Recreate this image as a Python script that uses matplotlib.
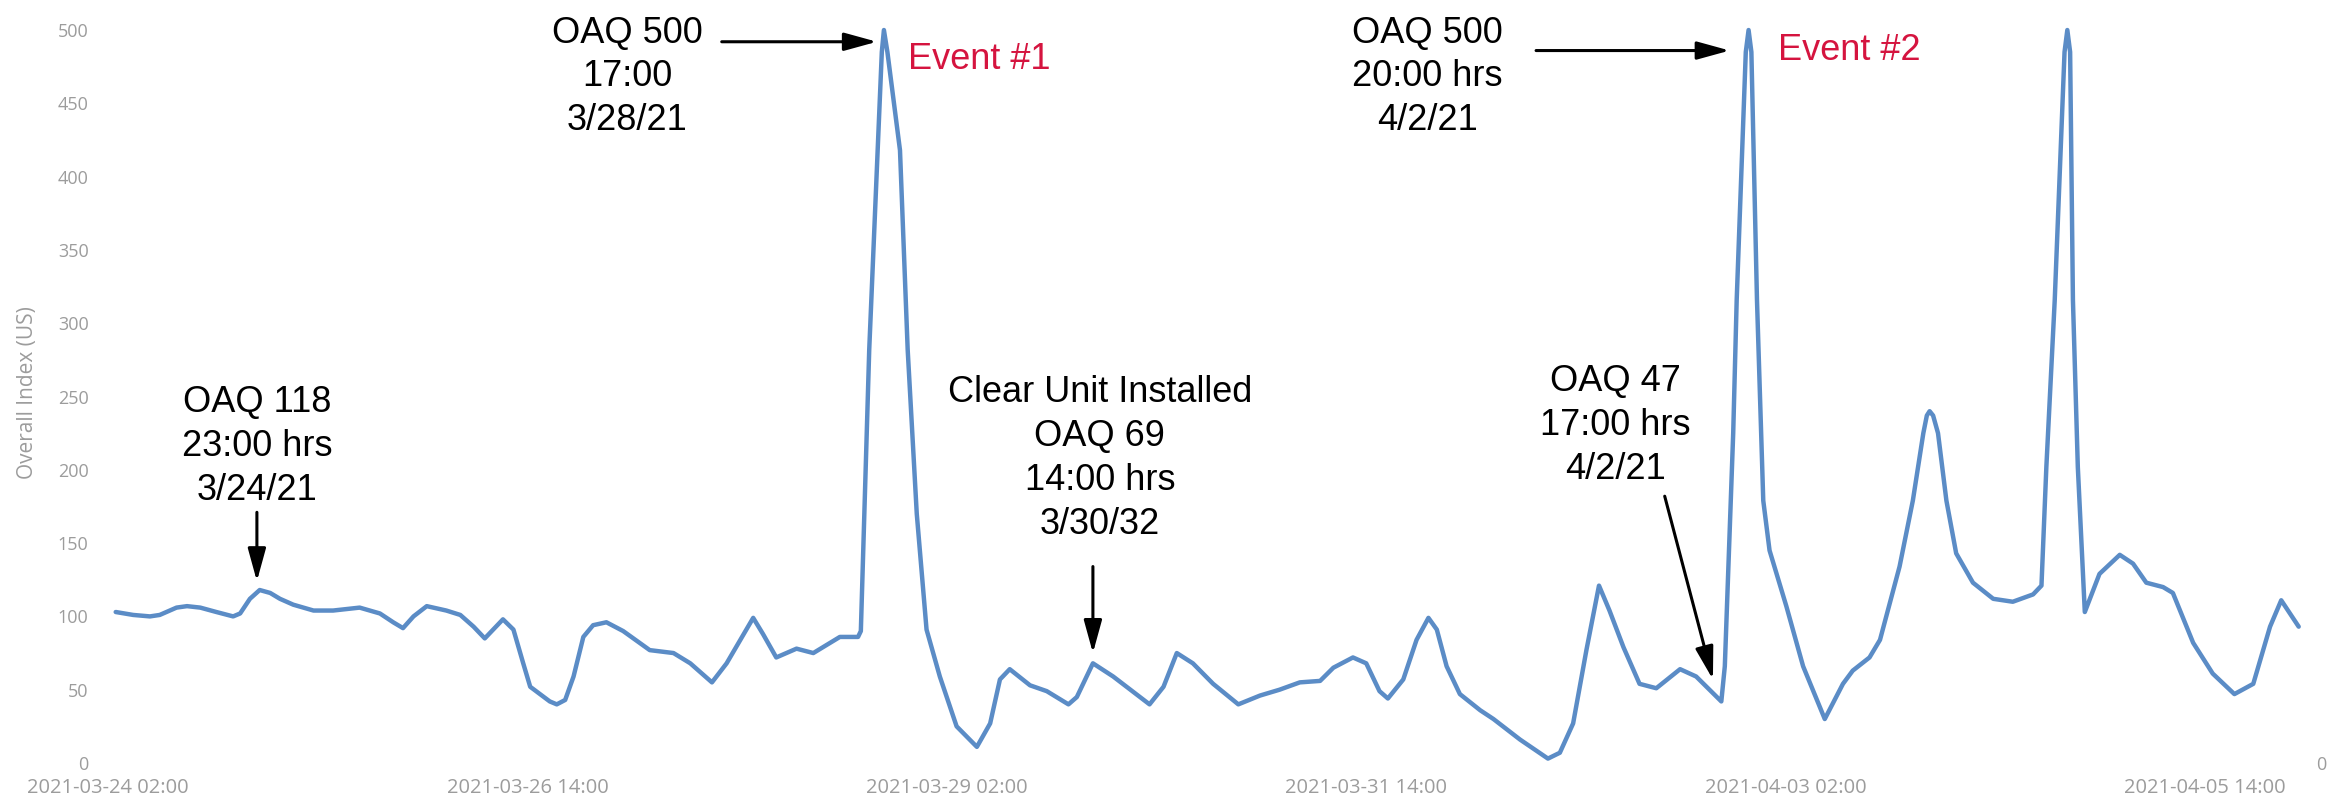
import matplotlib
matplotlib.use('Agg')
import matplotlib.pyplot as plt
import matplotlib.dates as mdates
import pandas as pd

# ---------------- data ----------------
start = pd.Timestamp('2021-03-24 02:00')

# hours after 2021-03-24 02:00
hours = [1.1, 3.6, 6.0, 7.4, 9.8, 11.3, 13.2, 15.5, 17.9, 18.9, 20.3, 21.7, 23.2, 24.6,
         26.5, 29.4, 32.2, 36.0, 38.9, 40.8, 42.2, 43.7, 45.6, 48.4, 50.4, 52.3, 53.9,
         56.5, 58.0, 59.4, 60.4, 63.2, 64.2, 65.4, 66.6, 68.0, 69.4, 71.3, 73.7, 77.5,
         80.9, 83.3, 86.4, 88.5, 92.3, 93.7, 95.6, 98.5, 100.9, 104.7, 107.3, 107.7,
         108.9, 110.1, 110.7, 111.0, 111.5, 113.3, 114.4, 115.7, 117.1, 119.0, 121.4,
         124.3, 126.2,
         127.6, 129.0, 131.9, 134.3, 137.4, 138.6, 140.9, 143.8, 149.0, 151.0, 152.9,
         155.2, 158.1, 161.7, 164.8, 167.6, 170.5, 173.4, 175.3, 178.1, 180.0, 181.9,
         183.1, 185.3, 187.2, 188.9, 190.1, 191.5, 193.4, 196.3, 198.2, 202.0, 206.0,
         207.7, 209.6, 211.5, 213.3, 214.8, 216.8, 219.1, 221.5, 224.9, 227.2, 230.8,
         231.3, 232.5, 233.0, 234.3, 234.7, 235.1, 235.9, 236.8, 237.7, 240.1, 242.5,
         245.6, 248.2,
         249.6, 252.0, 253.5, 256.3, 258.2, 259.7, 260.2, 260.6, 261.1, 261.8, 263.0,
         264.4, 266.8,
         269.7, 272.5, 275.4, 276.6, 277.3, 278.5, 279.9, 280.3, 280.7, 281.1, 281.8,
         282.8, 284.9,
         287.8, 289.7, 291.6, 294.0, 295.4, 298.3, 301.1, 304.2, 306.9, 309.3, 310.9,
         313.4]

oaq = [103, 101, 100, 101, 106, 107, 106, 103, 100, 102, 112, 118, 116, 112,
       108, 104, 104, 106, 102, 96, 92, 100, 107, 104, 101, 93, 85,
       98, 91, 68, 52, 42, 40, 43, 59, 86, 94, 96, 90, 77,
       75, 68, 55, 68, 99, 88, 72, 78, 75, 86, 86, 90,
       282, 418, 485, 500, 485, 418, 282, 170, 91, 59, 25,
       11, 27,
       57, 64, 53, 49, 40, 45, 68, 59, 40, 52, 75,
       68, 54, 40, 46, 50, 55, 56, 65, 72, 68, 49,
       44, 57, 84, 99, 91, 66, 47, 36, 30, 16, 3,
       7, 27, 77, 121, 104, 79, 54, 51, 64, 59, 42,
       66, 225, 316, 485, 500, 485, 316, 179, 145, 107, 66,
       30, 54,
       63, 72, 84, 134, 179, 225, 237, 240, 237, 225, 179,
       143, 123,
       112, 110, 115, 121, 202, 316, 485, 500, 485, 316, 202,
       103, 129,
       142, 136, 123, 120, 116, 82, 61, 47, 54, 93, 111,
       93]

tick_hours = [0, 60, 120, 180, 240, 300]
y_ticks = [0, 50, 100, 150, 200, 250, 300, 350, 400, 450, 500]

notes = ["OAQ 118\n23:00 hrs\n3/24/21",
         "OAQ 500\n17:00\n3/28/21",
         "Clear Unit Installed\nOAQ 69\n14:00 hrs\n3/30/32",
         "OAQ 500\n20:00 hrs\n4/2/21",
         "OAQ 47\n17:00 hrs\n4/2/21"]
events = ["Event #1", "Event #2"]

# ---------------- figure ----------------
def t(h):
    return (start + pd.Timedelta(hours=h)).to_pydatetime()

times = [t(h) for h in hours]

fig = plt.figure(figsize=(23.46, 8.09), dpi=100)
ax = fig.add_axes([0.04604, 0.05686, 0.93648, 0.91508])
ax.plot(times, oaq, color='#5b8cc6', lw=3.2, solid_joinstyle='round',
        solid_capstyle='round')

ax.set_xlim(t(0), t(314.3))
ax.set_ylim(0, 505)
for s in ax.spines.values():
    s.set_visible(False)

ax.set_xticks([t(h) for h in tick_hours])
ax.xaxis.set_major_formatter(mdates.DateFormatter('%Y-%m-%d %H:%M'))
ax.set_yticks(y_ticks)
ax.tick_params(axis='both', length=0, colors='#9c9c9c')
ax.tick_params(axis='y', labelsize=13, pad=14)
ax.tick_params(axis='x', labelsize=14.5, pad=11)
for lab in ax.get_xticklabels() + ax.get_yticklabels():
    lab.set_fontfamily(['Open Sans', 'DejaVu Sans'])
ax.set_ylabel("Overall Index (US)", color='#9c9c9c', fontsize=15,
              family=['Open Sans', 'DejaVu Sans'], labelpad=14)

ax2 = ax.twinx()
ax2.set_ylim(ax.get_ylim())
ax2.set_yticks([0])
ax2.tick_params(axis='y', length=0, colors='#9c9c9c', labelsize=13, pad=8)
for lab in ax2.get_yticklabels():
    lab.set_fontfamily(['Open Sans', 'DejaVu Sans'])
for s in ax2.spines.values():
    s.set_visible(False)

txt = dict(fontsize=26, family=['Liberation Sans', 'DejaVu Sans'], color='black',
           ha='center', va='center', linespacing=1.33)
ax.text(t(21.3), 216, notes[0], **txt)
ax.text(t(74.3), 468, notes[1], **txt)
ax.text(t(141.9), 207.5, notes[2], **txt)
ax.text(t(188.8), 468, notes[3], **txt)
ax.text(t(215.6), 230, notes[4], **txt)

ev = dict(fontsize=26, family=['Liberation Sans', 'DejaVu Sans'], color='#d5143f',
          ha='left', va='center')
ax.text(t(114.4), 480, events[0], **ev)
ax.text(t(238.9), 486, events[1], **ev)

arrow = dict(arrowstyle='-|>,head_length=0.8,head_width=0.22', color='black',
             lw=2.2, mutation_scale=25, shrinkA=0, shrinkB=0)
ax.annotate('', xy=(t(21.3), 124), xytext=(t(21.3), 171), arrowprops=arrow)
ax.annotate('', xy=(t(110.0), 492), xytext=(t(87.8), 492), arrowprops=arrow)
ax.annotate('', xy=(t(140.9), 75), xytext=(t(140.9), 134), arrowprops=arrow)
ax.annotate('', xy=(t(232.0), 486), xytext=(t(204.3), 486), arrowprops=arrow)
ax.annotate('', xy=(t(229.6), 57), xytext=(t(222.7), 182), arrowprops=arrow)

fig.savefig('out.png', dpi=100, facecolor='white')
